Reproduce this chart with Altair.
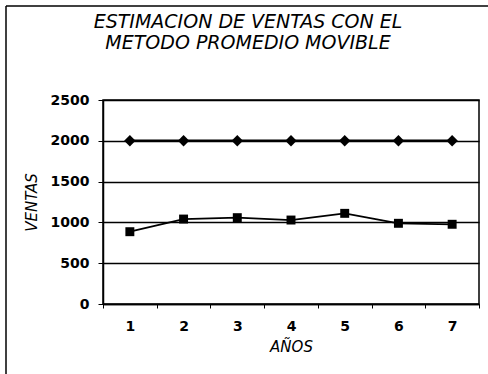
import altair as alt
import pandas as pd

anos = [1, 2, 3, 4, 5, 6, 7]
pronostico = [2000, 2000, 2000, 2000, 2000, 2000, 2000]
ventas = [886, 1041, 1058, 1029, 1111, 989, 977]
titulo = ["ESTIMACION DE VENTAS CON EL", "METODO PROMEDIO MOVIBLE"]

df = pd.DataFrame({
    "AÑOS": [str(a) for a in anos] * 2,
    "VENTAS": pronostico + ventas,
    "serie": ["Pronóstico"] * 7 + ["Ventas"] * 7,
})

FONT = "DejaVu Sans"

x = alt.X("AÑOS:O", sort=[str(a) for a in anos],
          scale=alt.Scale(paddingInner=0, paddingOuter=0),
          axis=alt.Axis(title="AÑOS", labelAngle=0, tickBand="extent",
                        domainColor="black", domainWidth=1.5,
                        tickColor="black", tickSize=4, labelPadding=11,
                        labelFont=FONT, labelFontSize=14, labelFontWeight="bold",
                        labelColor="black",
                        titleFont=FONT, titleFontSize=15, titleFontStyle="italic",
                        titleFontWeight="normal", titleColor="black", titlePadding=6))
y = alt.Y("VENTAS:Q", scale=alt.Scale(domain=[0, 2500]),
          axis=alt.Axis(title="VENTAS", values=[0, 500, 1000, 1500, 2000, 2500],
                        format="d",
                        grid=True, gridColor="black", gridWidth=1.3,
                        domainColor="black", domainWidth=1.5,
                        tickColor="black", tickSize=5, labelPadding=9,
                        labelFont=FONT, labelFontSize=14, labelFontWeight="bold",
                        labelColor="black",
                        titleFont=FONT, titleFontSize=15, titleFontStyle="italic",
                        titleFontWeight="normal", titleColor="black", titlePadding=11))

base = alt.Chart(df)

lines = base.mark_line(color="black").encode(
    x=x, y=y, detail="serie:N",
    strokeWidth=alt.StrokeWidth("serie:N", scale=alt.Scale(domain=["Pronóstico", "Ventas"], range=[2.5, 1.8]), legend=None),
)
points = base.mark_point(filled=True, color="black", opacity=1).encode(
    x=x, y=y,
    shape=alt.Shape("serie:N", scale=alt.Scale(domain=["Pronóstico", "Ventas"], range=["diamond", "square"]), legend=None),
    size=alt.Size("serie:N", scale=alt.Scale(domain=["Pronóstico", "Ventas"], range=[130, 80]), legend=None),
)

# chart title drawn as text lines above the plot
title1 = alt.Chart(pd.DataFrame({"t": [titulo[0]]})).mark_text(
    font=FONT, fontSize=19, fontStyle="italic", color="black", align="center", baseline="alphabetic"
).encode(text="t:N", x=alt.value(145), y=alt.value(-72))
title2 = alt.Chart(pd.DataFrame({"t": [titulo[1]]})).mark_text(
    font=FONT, fontSize=19, fontStyle="italic", color="black", align="center", baseline="alphabetic"
).encode(text="t:N", x=alt.value(145), y=alt.value(-51))

# outer frame (left and top edges of the chart box)
frame_left = alt.Chart().mark_rule(color="black", strokeWidth=1.5).encode(
    x=alt.value(-97), y=alt.value(-94), y2=alt.value(280))
frame_top = alt.Chart().mark_rule(color="black", strokeWidth=1.5).encode(
    x=alt.value(-97), x2=alt.value(390), y=alt.value(-94))

chart = alt.layer(lines, points, title1, title2, frame_left, frame_top).properties(
    width=376, height=204,
    autosize=alt.AutoSizeParams(type="none"),
    padding={"left": 103, "top": 100, "right": 9, "bottom": 70},
    background="white",
).configure_view(stroke="black", strokeWidth=1.5)

chart.save("out.html", embed_options={"renderer": "svg", "actions": False})
